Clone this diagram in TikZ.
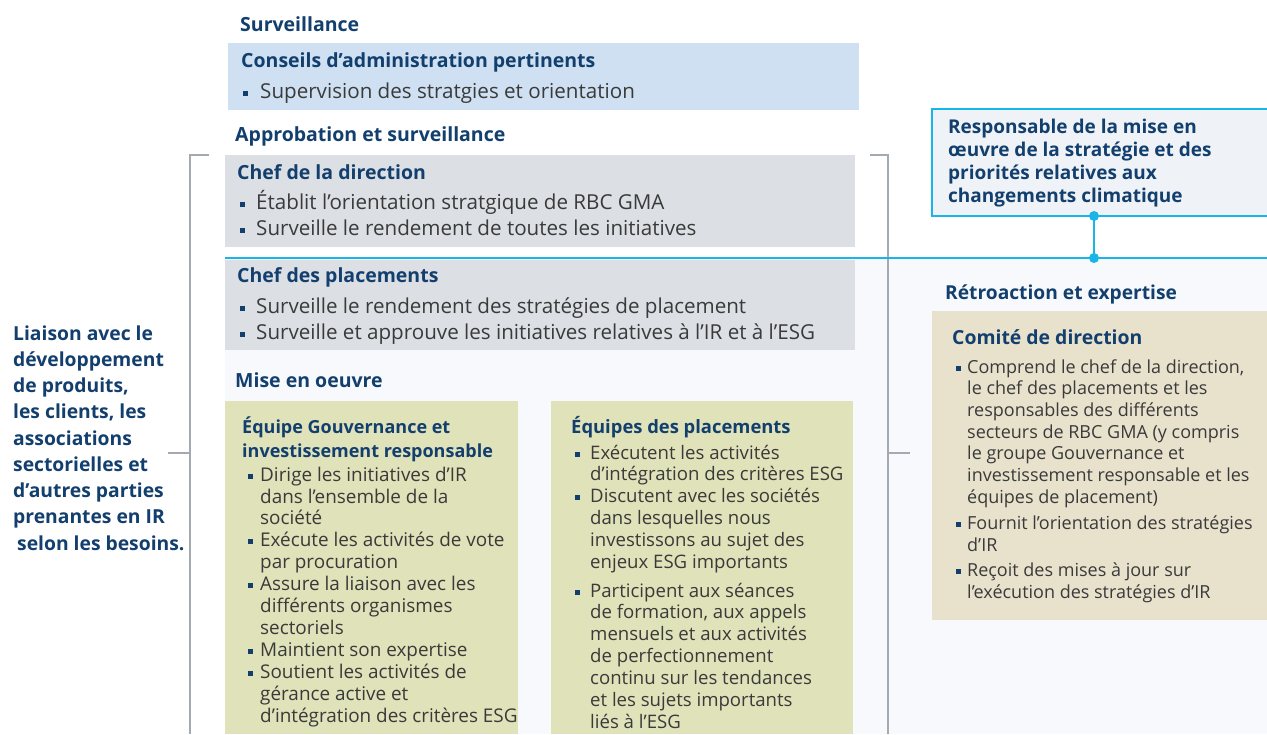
\documentclass[tikz,border=0pt]{standalone}
\usepackage{fontspec}
\setmainfont{Open Sans}
\definecolor{navy}{HTML}{123F6D}
\definecolor{bodytext}{HTML}{3A3A3A}
\definecolor{cyanline}{HTML}{19B5E8}
\definecolor{boardfill}{HTML}{CEE0F2}
\definecolor{execfill}{HTML}{DCDFE3}
\definecolor{teamfill}{HTML}{E0E2B9}
\definecolor{comitefill}{HTML}{E8E2CD}
\definecolor{respfill}{HTML}{EFF3F7}
\definecolor{panelfill}{HTML}{F7F9FC}
\definecolor{bracket}{HTML}{A3AAB2}
% square bullet hung to the left of the text column
\newcommand\bul[1][7pt]{\leavevmode\llap{\textcolor{navy}{\rule[2.5pt]{5pt}{5pt}}\hspace{#1}}}
\begin{document}
\begin{tikzpicture}[x=1pt,y=-1pt,
  panelbox/.style={anchor=north west,inner sep=0pt,outer sep=0pt},
  heading/.style={anchor=base west,inner sep=0pt,text=navy,font=\fontsize{19.5}{22}\selectfont\bfseries},
  bigbody/.style={anchor=base west,inner sep=0pt,text=bodytext,align=left,font=\fontsize{20.6}{26}\selectfont},
  body/.style={anchor=base west,inner sep=0pt,text=bodytext,align=left,font=\fontsize{18}{21.8}\selectfont},
  bracketline/.style={draw=bracket,line width=1.3pt},
  cyanrule/.style={draw=cyanline,line width=2.6pt},
  dot/.style={circle,fill=cyanline,inner sep=0pt,minimum size=10pt}]
\useasboundingbox (0,0) rectangle (1267,734);
\fill[white] (0,0) rectangle (1267,734);
\fill[panelfill] (225,258) rectangle (1267,734);

% boxes
\node[panelbox,fill=boardfill,minimum width=631pt,minimum height=67pt] (board) at (228,43) {};
\node[panelbox,fill=execfill,minimum width=630pt,minimum height=92pt] (ceo) at (225,155) {};
\node[panelbox,fill=execfill,minimum width=630pt,minimum height=90pt] (cio) at (225,260) {};
\node[panelbox,fill=teamfill,minimum width=293pt,minimum height=333pt] (gov) at (225,401) {};
\node[panelbox,fill=teamfill,minimum width=302pt,minimum height=333pt] (teams) at (551,401) {};
\node[panelbox,fill=comitefill,minimum width=335pt,minimum height=309pt] (comite) at (932,311) {};
\node[panelbox,fill=respfill,draw=cyanline,line width=2.8pt,minimum width=340pt,minimum height=107pt] (resp) at (932,109) {};

% brackets
\coordinate (lbtop) at (209,155);
\coordinate (lbcorner) at (190,155);
\coordinate (lbbottom) at (190,734);
\coordinate (lbmid) at (190,453);
\coordinate (lbtick) at (168,453);
\coordinate (rbtop) at (870,155);
\coordinate (rbcorner) at (888,155);
\coordinate (rbbottom) at (888,734);
\coordinate (rbmid) at (888,453);
\coordinate (rbtick) at (910,453);
\draw[bracketline] (lbtop) -- (lbcorner) -- (lbbottom);
\draw[bracketline] (lbtick) -- (lbmid);
\draw[bracketline] (rbtop) -- (rbcorner) -- (rbbottom);
\draw[bracketline] (rbmid) -- (rbtick);

% cyan link line and connector
\coordinate (linestart) at (225,258);
\coordinate (lineend) at (1267,258);
\draw[cyanrule] (linestart) -- (lineend);
\node[dot] (dtop) at (1094,216) {};
\node[dot] (dbottom) at (1094,258) {};
\draw[cyanrule] (dtop.center) -- (dbottom.center);

% headings and texts (multi-line nodes are placed by their last baseline)
\node[heading] (tsurv) at (240,31) {Surveillance};
\node[heading] (tboard) at (241,67) {Conseils d’administration pertinents};
\node[bigbody] (bboard) at (260,98) {\bul[12pt]Supervision des stratgies et orientation};

\node[heading] (tappr) at (235,141) {Approbation et surveillance};
\node[heading] (tceo) at (237,179) {Chef de la direction};
\node[bigbody] (bceo) at (256,235) {\bul[11pt]Établit l’orientation stratgique de RBC GMA\\
\bul[11pt]Surveille le rendement de toutes les initiatives};
\node[heading] (tcio) at (237,282) {Chef des placements};
\node[bigbody] (bcio) at (256,339) {\bul[11pt]Surveille le rendement des stratégies de placement\\
\bul[11pt]Surveille et approuve les initiatives relatives à l’IR et à l’ESG};

\node[heading] (tmise) at (235,387) {Mise en oeuvre};
\node[heading,align=left,font=\fontsize{18}{24}\selectfont\bfseries] (tgov) at (242,457) {Équipe Gouvernance et\\investissement responsable};
\node[body,font=\fontsize{18.9}{21.9}\selectfont] (bgov) at (260,722) {\bul Dirige les initiatives d’IR\\
dans l’ensemble de la\\
société\\
\bul Exécute les activités de vote\\
par procuration\\
\bul Assure la liaison avec les\\
différents organismes\\
sectoriels\\
\bul Maintient son expertise\\
\bul Soutient les activités de\\
gérance active et\\
d’intégration des critères ESG};

\node[heading,font=\fontsize{18.4}{24}\selectfont\bfseries] (tteams) at (571,433) {Équipes des placements};
\node[body,font=\fontsize{18.6}{21.83}\selectfont] (bteams) at (590,728) {\bul[10pt]Exécutent les activités\\
d’intégration des critères ESG\\
\bul[10pt]Discutent avec les sociétés\\
dans lesquelles nous\\
investissons au sujet des\\
enjeux ESG importants\\[7pt]
\bul[10pt]Participent aux séances\\
de formation, aux appels\\
mensuels et aux activités\\
de perfectionnement\\
continu sur les tendances\\
et les sujets importants\\
liés à l’ESG};

\node[heading,align=left,font=\fontsize{19}{22.67}\selectfont\bfseries] (tresp) at (948,202) {Responsable de la mise en\\
œuvre de la stratégie et des\\
priorités relatives aux\\
changements climatique};

\node[heading,font=\fontsize{19.2}{22}\selectfont\bfseries] (tretro) at (945,299) {Rétroaction et expertise};
\node[heading,font=\fontsize{19.4}{22}\selectfont\bfseries] (tcomite) at (952,344) {Comité de direction};
\node[body,font=\fontsize{18}{21.7}\selectfont] (bcomite) at (967,598) {\bul[6pt]Comprend le chef de la direction,\\
le chef des placements et les\\
responsables des différents\\
secteurs de RBC GMA (y compris\\
le groupe Gouvernance et\\
investissement responsable et les\\
équipes de placement)\\[5pt]
\bul[6pt]Fournit l’orientation des stratégies\\
d’IR\\[3pt]
\bul[6pt]Reçoit des mises à jour sur\\
l'exécution des stratégies d’IR};

\node[heading,align=left,font=\fontsize{19.3}{26.25}\selectfont\bfseries] (tliaison) at (13,550) {Liaison avec le\\
développement\\
de produits,\\
les clients, les\\
associations\\
sectorielles et\\
d’autres parties\\
prenantes en IR\\
\hspace{4pt}selon les besoins.};
\end{tikzpicture}
\end{document}
